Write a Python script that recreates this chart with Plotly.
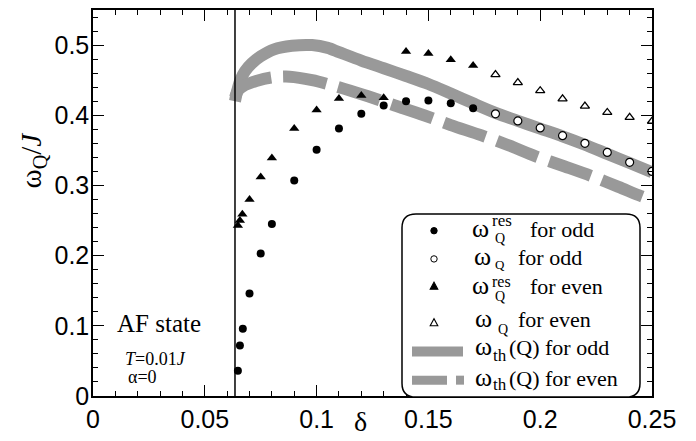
import plotly.graph_objects as go

# ---------------- data ----------------
odd_res_x = [0.0648, 0.0657, 0.0670, 0.070, 0.075, 0.080, 0.090, 0.100, 0.110, 0.120, 0.130, 0.140, 0.150, 0.160, 0.170]
odd_res_y = [0.036, 0.072, 0.096, 0.146, 0.203, 0.245, 0.307, 0.351, 0.381, 0.402, 0.414, 0.420, 0.421, 0.417, 0.410]

odd_x = [0.18, 0.19, 0.20, 0.21, 0.22, 0.23, 0.24, 0.25]
odd_y = [0.402, 0.392, 0.382, 0.371, 0.360, 0.347, 0.333, 0.320]

even_res_x = [0.0648, 0.0657, 0.0668, 0.070, 0.075, 0.080, 0.090, 0.100, 0.110, 0.120, 0.130, 0.140, 0.150, 0.160, 0.170]
even_res_y = [0.243, 0.250, 0.259, 0.280, 0.312, 0.339, 0.381, 0.4075, 0.424, 0.428, 0.425, 0.491, 0.488, 0.479, 0.471]

even_x = [0.18, 0.19, 0.20, 0.21, 0.22, 0.23, 0.24, 0.25]
even_y = [0.458, 0.4465, 0.435, 0.4235, 0.413, 0.404, 0.397, 0.3915]

th_odd_x = [0.0635, 0.0645, 0.066, 0.068, 0.071, 0.075, 0.081, 0.089, 0.098, 0.105, 0.110, 0.120, 0.130,
            0.140, 0.150, 0.160, 0.170, 0.180, 0.190, 0.200, 0.210, 0.220, 0.230, 0.240, 0.250]
th_odd_y = [0.420, 0.435, 0.451, 0.463, 0.474, 0.484, 0.494, 0.499, 0.500, 0.496, 0.490, 0.478, 0.467,
            0.456, 0.4446, 0.431, 0.417, 0.4035, 0.392, 0.381, 0.370, 0.358, 0.345, 0.332, 0.319]

th_even_x = [0.0635, 0.065, 0.068, 0.073, 0.080, 0.088, 0.098, 0.110, 0.123, 0.135, 0.148, 0.160, 0.1735,
             0.186, 0.198, 0.211, 0.2234, 0.235, 0.245, 0.250]
th_even_y = [0.425, 0.436, 0.443, 0.449, 0.454, 0.455, 0.450, 0.440, 0.427, 0.414, 0.400, 0.386, 0.3716,
             0.357, 0.3415, 0.327, 0.3128, 0.298, 0.285, 0.279]

af_boundary = 0.0635

x_tickvals = [0, 0.05, 0.1, 0.15, 0.2, 0.25]
x_ticktext = ["0", "0.05", "0.1", "0.15", "0.2", "0.25"]
y_tickvals = [0, 0.1, 0.2, 0.3, 0.4, 0.5]
y_ticktext = ["0", "0.1", "0.2", "0.3", "0.4", "0.5"]

# ---------------- styling ----------------
GRAY = "#999999"
SERIF = "Liberation Serif"
SANS = "Liberation Sans"
W, H = 696, 441
L, R, T, B = 93, 652, 8, 398


def P(px, py):
    return (px - L) / (R - L), (B - py) / (B - T)


fig = go.Figure()

fig.add_trace(go.Scatter(x=th_odd_x, y=th_odd_y, mode="lines", showlegend=False,
                         line=dict(color=GRAY, width=12, shape="spline", smoothing=0.8)))
fig.add_trace(go.Scatter(x=th_even_x, y=th_even_y, mode="lines", showlegend=False,
                         line=dict(color=GRAY, width=12, shape="spline", smoothing=0.8, dash="44px,12px")))
fig.add_trace(go.Scatter(x=odd_res_x, y=odd_res_y, mode="markers", showlegend=False,
                         marker=dict(symbol="circle", size=8, color="black")))
fig.add_trace(go.Scatter(x=odd_x, y=odd_y, mode="markers", showlegend=False,
                         marker=dict(symbol="circle", size=8, color="white", line=dict(color="black", width=1.2))))
fig.add_trace(go.Scatter(x=even_res_x, y=even_res_y, mode="markers", showlegend=False,
                         marker=dict(symbol="triangle-up", size=9, color="black")))
fig.add_trace(go.Scatter(x=even_x, y=even_y, mode="markers", showlegend=False,
                         marker=dict(symbol="triangle-up", size=8, color="white", line=dict(color="black", width=1.3))))

shapes = []
# AF boundary
shapes.append(dict(type="line", xref="x", yref="paper", x0=af_boundary, x1=af_boundary, y0=0, y1=1,
                   line=dict(color="black", width=1.5)))

# legend box (rounded)
bx0, bx1, by0, by1, rr = 402, 640, 214, 399, 14
def pt(px, py):
    a, b = P(px, py)
    return f"{a:.5f},{b:.5f}"
path = (f"M {pt(bx0+rr, by0)} L {pt(bx1-rr, by0)} Q {pt(bx1, by0)} {pt(bx1, by0+rr)} "
        f"L {pt(bx1, by1-rr)} Q {pt(bx1, by1)} {pt(bx1-rr, by1)} L {pt(bx0+rr, by1)} "
        f"Q {pt(bx0, by1)} {pt(bx0, by1-rr)} L {pt(bx0, by0+rr)} Q {pt(bx0, by0)} {pt(bx0+rr, by0)} Z")
shapes.append(dict(type="path", xref="paper", yref="paper", path=path, fillcolor="white",
                   line=dict(color="black", width=1.5), layer="above"))

def glyph_circle(px, py, filled):
    a, b = P(px, py)
    return dict(type="circle", xref="paper", yref="paper", xsizemode="pixel", ysizemode="pixel",
                xanchor=a, yanchor=b, x0=-3.2, x1=3.2, y0=-3.2, y1=3.2,
                fillcolor="black" if filled else "white", line=dict(color="black", width=1), layer="above")

def glyph_tri(px, py, filled):
    a, b = P(px, py)
    return dict(type="path", xref="paper", yref="paper", xsizemode="pixel", ysizemode="pixel",
                xanchor=a, yanchor=b, path="M -3.8,-3 L 3.8,-3 L 0,4 Z",
                fillcolor="black" if filled else "white", line=dict(color="black", width=1.1), layer="above")

shapes.append(glyph_circle(434, 231, True))
shapes.append(glyph_circle(434, 259.5, False))
shapes.append(glyph_tri(434, 287, True))
shapes.append(glyph_tri(434, 324, False))

def hline(x0, x1, py, w):
    a0, b = P(x0, py)
    a1, _ = P(x1, py)
    return dict(type="line", xref="paper", yref="paper", x0=a0, x1=a1, y0=b, y1=b,
                line=dict(color=GRAY, width=w), layer="above")

shapes.append(hline(412, 463, 353, 10))
shapes.append(hline(412, 447, 382, 9))
shapes.append(hline(456, 464, 382, 9))

annotations = []
def ann(text, px, py, size, xanchor="left", font=SERIF, angle=0):
    a, b = P(px, py)
    annotations.append(dict(text=text, x=a, y=b, xref="paper", yref="paper", xanchor=xanchor,
                            yanchor="middle", showarrow=False, textangle=angle, borderpad=0,
                            font=dict(family=font, size=size, color="black")))

# legend texts
rows = [232, 260, 289, 323, 351, 382]
OM, TX = 26, 22
ann("ω", 471, rows[0] - 3, OM)
ann("res", 491, 221, 17)
ann("Q", 494, 238.5, 14)
ann("for odd", 529, rows[0] - 2, TX)

ann("ω", 473, rows[1] - 3, OM)
ann("Q", 494, 265.5, 13)
ann("for odd", 517, rows[1] - 2, TX)

ann("ω", 471, rows[2] - 3, OM)
ann("res", 491, 282, 16)
ann("Q", 494, 297, 14)
ann("for even", 529, rows[2] - 2, TX)

ann("ω", 474, rows[3] - 3, OM)
ann("Q", 497, 331, 14)
ann("for even", 517, rows[3] - 2, TX)

ann("ω", 474, rows[4] - 3, OM)
ann("th", 492, 357, 17)
ann("(Q) for odd", 508, rows[4] - 2, TX)

ann("ω", 474, rows[5] - 3, OM)
ann("th", 492, 386, 17)
ann("(Q) for even", 508, rows[5] - 2, TX)

# in-plot texts
ann("AF state", 159, 325, 25, xanchor="center")
ann("<i>T</i>=0.01<i>J</i>", 124, 361, 18)
ann("α=0", 127, 379, 18)

# axis titles
ann("δ", 360, 424, 28, xanchor="center")
ann("ω<sub>Q</sub>/<i>J</i>", 33, 160, 29, xanchor="center", angle=-90)

axis_common = dict(showline=True, linewidth=1.5, linecolor="black", mirror="allticks", ticks="inside",
                   ticklen=11, tickwidth=1.2, tickcolor="black", showgrid=False, zeroline=False,
                   tickfont=dict(family=SANS, size=25, color="black"))

fig.update_layout(
    width=W, height=H,
    margin=dict(l=L, r=W - R, t=T, b=H - B, pad=0),
    paper_bgcolor="white", plot_bgcolor="white",
    xaxis=dict(range=[0, 0.25], tickmode="array", tickvals=x_tickvals, ticktext=x_ticktext,
               minor=dict(dtick=0.01, tick0=0, ticks="inside", ticklen=5, tickwidth=1.2, tickcolor="black"),
               **axis_common),
    yaxis=dict(range=[0, 0.55], tickmode="array", tickvals=y_tickvals, ticktext=y_ticktext,
               ticklabelstandoff=-3,
               minor=dict(dtick=0.02, tick0=0, ticks="inside", ticklen=5, tickwidth=1.2, tickcolor="black"),
               **axis_common),
    shapes=shapes, annotations=annotations,
)

fig.write_html("out.html")
